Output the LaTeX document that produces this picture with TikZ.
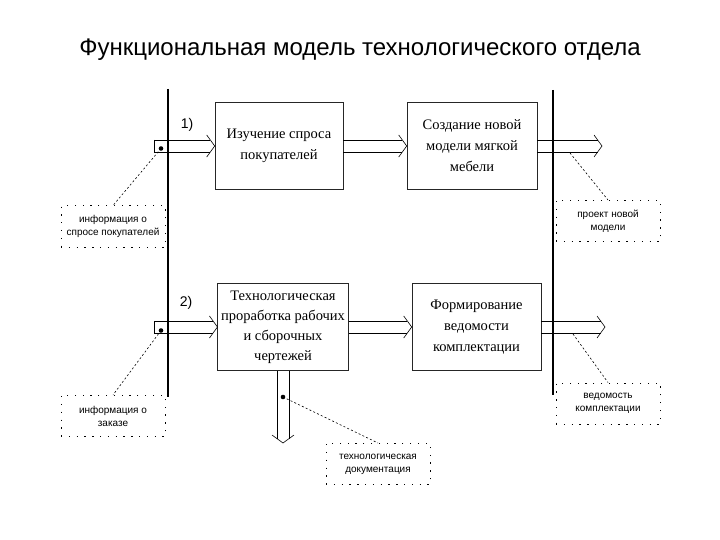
\documentclass[tikz,border=0pt]{standalone}
\usepackage{fontspec}
\setmainfont{Liberation Serif}
\setsansfont{Liberation Sans}
\usepackage{tikz}
\usetikzlibrary{arrows.meta}
\usetikzlibrary{calc}

\tikzset{
    block/.style={draw=black!85, line width=0.6pt, minimum width=128pt, minimum height=87pt,
        align=center, font=\rmfamily\fontsize{14.5}{21}\selectfont},
    note/.style={draw, line width=1pt, dash pattern=on 1.3pt off 6.5pt, minimum width=104pt,
        minimum height=41pt, align=center, font=\sffamily\fontsize{10}{13}\selectfont},
    link/.style={line width=0.6pt, dash pattern=on 2pt off 2.2pt},
    border/.style={line width=1.2pt}
}

% hollow arrow from #1 to #2
\newcommand{\flowarrow}[2]{%
    \draw ($(#1)!6pt!90:(#2)$) -- ($(#2)!4.5pt!(#1)!6pt!-90:(#1)$);
    \draw ($(#1)!6pt!-90:(#2)$) -- ($(#2)!4.5pt!(#1)!6pt!90:(#1)$);
    \draw ($(#2)!13.6pt!54:(#1)$) -- (#2) -- ($(#2)!13.6pt!-54:(#1)$);
}

\begin{document}
\begin{tikzpicture}[x=1pt, y=-1pt, line width=0.6pt]
    \useasboundingbox (0,0) rectangle (720,540);

    % Titre
    \node[font=\sffamily\fontsize{24}{28}\selectfont] (title) at (360,50) {Функциональная модель технологического отдела};

    % Frontieres
    \draw[border] (168,89) -- (168,397);
    \draw[border] (553,90) -- (553,395);

    % Blocs
    \node[block] (study) at (279,146) {Изучение спроса\\покупателей};
    \node[block, minimum width=130pt] (create) at (472,146) {Создание новой\\модели мягкой\\мебели};
    \node[block, font=\rmfamily\fontsize{14.5}{20}\selectfont] (tech) at (283,327) {Технологическая\\проработка рабочих\\и сборочных\\чертежей};
    \node[block, minimum width=129pt] (form) at (476.5,327) {Формирование\\ведомости\\комплектации};

    % Notes
    \node[note] (askinfo) at (113,226.5) {информация о\\спросе покупателей};
    \node[note] (project) at (608,221) {проект новой\\модели};
    \node[note] (orderinfo) at (113,416) {информация о\\заказе};
    \node[note] (sheet) at (608,403.5) {ведомость\\комплектации};
    \node[note] (docs) at (378,464) {технологическая\\документация};

    % Entrees et sorties
    \coordinate (in1) at (154,146);
    \coordinate (out1) at (602,146);
    \coordinate (in2) at (154,327);
    \coordinate (out2) at (605,327);
    \coordinate (down) at (283,443);

    \flowarrow{in1}{study.west}
    \draw (154,140) -- (154,152);
    \flowarrow{study.east}{create.west}
    \flowarrow{create.east}{out1}

    \flowarrow{in2}{tech.west}
    \draw (154,321) -- (154,333);
    \flowarrow{tech.east}{form.west}
    \flowarrow{form.east}{out2}
    \flowarrow{tech.south}{down}

    % Numeros
    \node[font=\sffamily\fontsize{14}{16}\selectfont] (n1) at (187,125) {1)};
    \node[font=\sffamily\fontsize{14}{16}\selectfont] (n2) at (186,303) {2)};

    % Points
    \coordinate (dot1) at (161,148.5);
    \coordinate (dot2) at (161,330.5);
    \coordinate (dot3) at (283,397);
    \coordinate (tail1) at (570,153);
    \coordinate (tail2) at (573,334);
    \fill (dot1) circle (2.3pt);
    \fill (dot2) circle (2.3pt);
    \fill (dot3) circle (2.3pt);

    % Liens
    \draw[link] (dot1) -- (askinfo.north);
    \draw[link] (tail1) -- (project.north);
    \draw[link] (dot2) -- (orderinfo.north);
    \draw[link] (tail2) -- (sheet.north);
    \draw[link] (dot3) -- (docs.north);
\end{tikzpicture}
\end{document}
